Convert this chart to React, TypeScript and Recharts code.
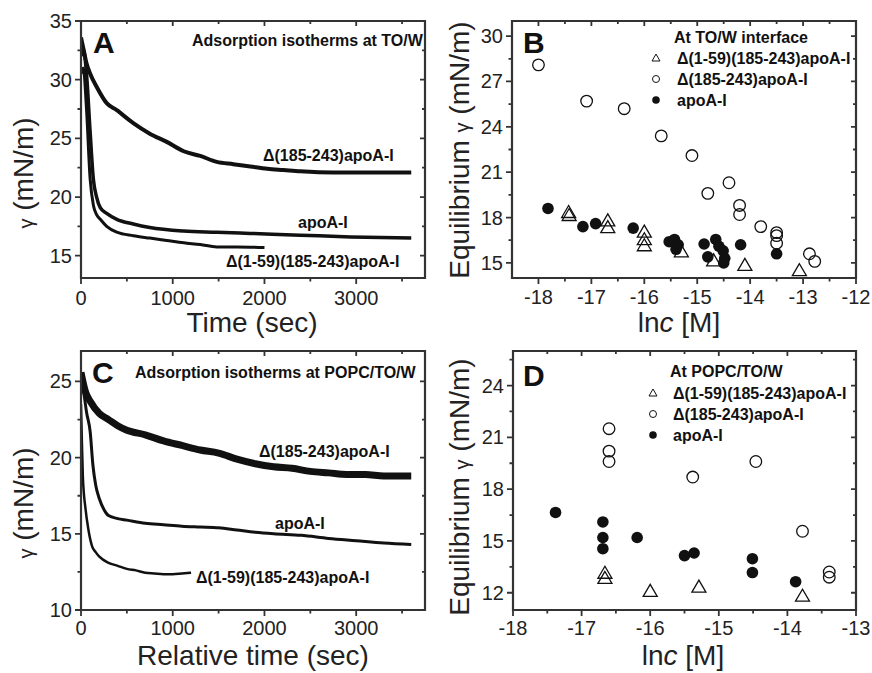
import React from "react";
import { LineChart, Line, ScatterChart, Scatter, XAxis, YAxis } from "recharts";

// Panel A: adsorption at TO/W (time in sec, gamma in mN/m)
const timeA_d185 = [0, 30, 60, 100, 170, 280, 390, 570, 750, 935, 1120, 1300, 1480, 1660, 1845, 2030, 2210, 2390, 2750, 3120, 3600];
const gammaA_d185 = [33.6, 32.5, 31.4, 30.5, 29.4, 28.0, 27.4, 26.3, 25.4, 24.7, 23.9, 23.5, 23.0, 22.8, 22.6, 22.4, 22.3, 22.2, 22.1, 22.1, 22.1];
const timeA_apo = [0, 25, 60, 100, 135, 170, 210, 280, 390, 570, 750, 1120, 1480, 1845, 2390, 2940, 3600];
const gammaA_apo = [32.0, 32.6, 30.5, 25.5, 21.5, 20.0, 19.1, 18.6, 18.1, 17.7, 17.4, 17.1, 17.0, 16.9, 16.75, 16.6, 16.5];
const timeA_d159 = [0, 25, 60, 100, 135, 170, 210, 280, 390, 570, 750, 935, 1120, 1300, 1480, 1700, 2000];
const gammaA_d159 = [30.5, 31.0, 27.5, 21.5, 19.3, 18.5, 18.1, 17.5, 17.0, 16.7, 16.5, 16.3, 16.1, 15.95, 15.75, 15.75, 15.7];

// Panel C: adsorption at POPC/TO/W
const timeC_d185 = [0, 50, 100, 200, 300, 400, 500, 700, 900, 1100, 1300, 1500, 1700, 1900, 2100, 2300, 2500, 2700, 2900, 3100, 3300, 3600];
const gammaC_d185 = [25.6, 24.3, 23.7, 22.9, 22.5, 22.1, 21.8, 21.5, 21.1, 20.8, 20.5, 20.3, 19.9, 19.6, 19.4, 19.3, 19.1, 19.0, 18.9, 18.9, 18.8, 18.8];
const timeC_apo = [0, 30, 60, 100, 130, 160, 200, 250, 300, 400, 500, 700, 900, 1100, 1300, 1500, 1700, 1900, 2100, 2400, 2700, 3000, 3300, 3600];
const gammaC_apo = [25.5, 24.3, 23.0, 21.7, 19.5, 18.2, 17.3, 16.6, 16.2, 16.0, 15.9, 15.7, 15.6, 15.5, 15.45, 15.4, 15.25, 15.1, 15.0, 14.9, 14.7, 14.55, 14.4, 14.3];
const timeC_d159 = [0, 10, 20, 50, 80, 120, 160, 200, 300, 400, 500, 600, 700, 800, 900, 1000, 1100, 1200];
const gammaC_d159 = [23.5, 21.0, 18.8, 16.6, 15.3, 14.2, 13.8, 13.5, 13.1, 12.9, 12.7, 12.6, 12.45, 12.4, 12.35, 12.35, 12.4, 12.45];

// Panel B: equilibrium gamma vs ln c at TO/W
const lncB_d159 = [-17.43, -17.42, -16.69, -16.69, -16.0, -16.0, -16.0, -15.3, -14.69, -14.1, -13.07];
const eqB_d159 = [18.3, 18.1, 17.75, 17.3, 17.0, 16.5, 16.1, 15.7, 15.1, 14.8, 14.45];
const lncB_d185 = [-18.0, -17.09, -16.38, -15.68, -15.1, -14.4, -14.8, -14.2, -14.2, -13.8, -13.5, -13.5, -13.5, -12.88, -12.78];
const eqB_d185 = [28.1, 25.7, 25.2, 23.4, 22.1, 20.3, 19.6, 18.8, 18.2, 17.4, 17.0, 16.8, 16.3, 15.6, 15.1];
const lncB_apo = [-17.82, -17.16, -16.92, -16.21, -15.53, -15.43, -15.36, -15.4, -14.87, -14.65, -14.8, -14.59, -14.51, -14.48, -14.5, -14.18, -13.5];
const eqB_apo = [18.6, 17.4, 17.6, 17.3, 16.4, 16.55, 16.2, 15.9, 16.25, 16.55, 15.4, 16.1, 15.8, 15.3, 15.0, 16.2, 15.6];

// Panel D: equilibrium gamma vs ln c at POPC/TO/W
const lncD_d159 = [-16.66, -16.66, -16.0, -15.29, -13.78];
const eqD_d159 = [13.1, 12.8, 12.05, 12.3, 11.77];
const lncD_d185 = [-16.6, -16.6, -16.6, -15.38, -14.46, -13.78, -13.39, -13.39];
const eqD_d185 = [21.5, 20.2, 19.6, 18.7, 19.6, 15.56, 13.2, 12.9];
const lncD_apo = [-17.38, -16.69, -16.69, -16.69, -16.19, -15.5, -15.36, -14.51, -14.51, -13.88];
const eqD_apo = [16.65, 16.1, 15.2, 14.55, 15.2, 14.15, 14.3, 13.97, 13.17, 12.64];

const FONT = "Arial, 'Liberation Sans', sans-serif";
const INK = "#111";
const FRAME = "#333";

const series = (xs: number[], ys: number[]) => xs.map((x, i) => ({ x, y: ys[i] }));

const OpenCircle = (p: any) => <circle cx={p.cx} cy={p.cy} r={5.8} fill="none" stroke={INK} strokeWidth={1.3} />;
const FilledCircle = (p: any) => <circle cx={p.cx} cy={p.cy} r={5.8} fill={INK} />;
const Triangle = (p: any) => (
  <polygon
    points={`${p.cx},${p.cy - 7.5} ${p.cx - 7},${p.cy + 4.5} ${p.cx + 7},${p.cy + 4.5}`}
    fill="none"
    stroke={INK}
    strokeWidth={1.3}
  />
);

const bottomLabel = (dy: number) => (p: any) => (
  <text x={p.x} y={p.y + dy} textAnchor="middle" fontSize={20} fontFamily={FONT} fill="#222">
    {p.payload.value}
  </text>
);
const leftLabel = (p: any) => (
  <text x={p.x - 9} y={p.y + 7} textAnchor="end" fontSize={20} fontFamily={FONT} fill="#222">
    {p.payload.value}
  </text>
);

type Frame = {
  xDomain: [number, number];
  yDomain: [number, number];
  xMajor: number[];
  xMinor: number[];
  yMajor: number[];
  yMinor: number[];
  yWidth: number;
  xHeight: number;
  dy: number;
  // plot box in page pixels: left, top, right, bottom
  box: [number, number, number, number];
};

const axes = (f: Frame) => [
  <XAxis key="xb" xAxisId="b" dataKey="x" type="number" domain={f.xDomain} ticks={f.xMajor} interval={0}
    height={f.xHeight} tickSize={0} tickMargin={0} tick={bottomLabel(f.dy)} axisLine={{ stroke: FRAME, strokeWidth: 2 }} tickLine={false} allowDataOverflow />,
  <YAxis key="yl" yAxisId="l" dataKey="y" type="number" domain={f.yDomain} ticks={f.yMajor} interval={0}
    width={f.yWidth} tickSize={0} tickMargin={0} tick={leftLabel} axisLine={{ stroke: FRAME, strokeWidth: 2 }} tickLine={false} allowDataOverflow />,
];

// Origin-style box: outward ticks bottom/left, inward ticks top/right, minor ticks in between
const FrameMarks = ({ f }: { f: Frame }) => {
  const [l, t, r, b] = f.box;
  const sx = (v: number) => l + ((v - f.xDomain[0]) / (f.xDomain[1] - f.xDomain[0])) * (r - l);
  const sy = (v: number) => b - ((v - f.yDomain[0]) / (f.yDomain[1] - f.yDomain[0])) * (b - t);
  const ticks: string[] = [];
  f.xMajor.forEach((v) => { const x = sx(v); ticks.push(`M${x} ${b} L${x} ${b + 6}`, `M${x} ${t} L${x} ${t + 5}`); });
  f.xMinor.forEach((v) => { const x = sx(v); ticks.push(`M${x} ${b} L${x} ${b + 3.5}`, `M${x} ${t} L${x} ${t + 3}`); });
  f.yMajor.forEach((v) => { const y = sy(v); ticks.push(`M${l} ${y} L${l - 6} ${y}`, `M${r} ${y} L${r - 5} ${y}`); });
  f.yMinor.forEach((v) => { const y = sy(v); ticks.push(`M${l} ${y} L${l - 3.5} ${y}`, `M${r} ${y} L${r - 3} ${y}`); });
  return (
    <g>
      <path d={`M${l} ${t} L${r} ${t} L${r} ${b} L${l} ${b} Z`} fill="none" stroke={FRAME} strokeWidth={2.2} />
      <path d={ticks.join(" ")} fill="none" stroke={FRAME} strokeWidth={1.8} />
    </g>
  );
};

const frameA: Frame = {
  xDomain: [0, 3750], yDomain: [13.1, 35],
  xMajor: [0, 1000, 2000, 3000], xMinor: [500, 1500, 2500, 3500],
  yMajor: [15, 20, 25, 30, 35], yMinor: [17.5, 22.5, 27.5, 32.5],
  yWidth: 81, xHeight: 58, dy: 27, box: [81, 21, 425, 278],
};
const frameC: Frame = {
  xDomain: [0, 3750], yDomain: [10, 27],
  xMajor: [0, 1000, 2000, 3000], xMinor: [500, 1500, 2500, 3500],
  yMajor: [10, 15, 20, 25], yMinor: [12.5, 17.5, 22.5],
  yWidth: 81, xHeight: 63, dy: 25, box: [81, 351, 425, 610],
};
const frameB: Frame = {
  xDomain: [-18.5, -12], yDomain: [14, 31],
  xMajor: [-18, -17, -16, -15, -14, -13, -12], xMinor: [-17.5, -16.5, -15.5, -14.5, -13.5, -12.5],
  yMajor: [15, 18, 21, 24, 27, 30], yMinor: [16.5, 19.5, 22.5, 25.5, 28.5],
  yWidth: 76, xHeight: 58, dy: 26, box: [512, 21, 856, 278],
};
const frameD: Frame = {
  xDomain: [-18, -13], yDomain: [11, 26],
  xMajor: [-18, -17, -16, -15, -14, -13], xMinor: [-17.5, -16.5, -15.5, -14.5, -13.5],
  yMajor: [12, 15, 18, 21, 24], yMinor: [13.5, 16.5, 19.5, 22.5, 25.5],
  yWidth: 77, xHeight: 63, dy: 25, box: [513, 351, 856, 610],
};

const Bold = ({ x, y, children, size = 16 }: any) => (
  <text x={x} y={y} fontSize={size} fontWeight="bold" fontFamily={FONT} fill={INK}>{children}</text>
);

export default function App() {
  const lineProps = { xAxisId: "b", yAxisId: "l", dataKey: "y", dot: false, isAnimationActive: false, type: "monotone" as const, stroke: INK };
  return (
    <div style={{ position: "absolute", left: 0, top: 0, width: 872, height: 673, background: "#fff", fontFamily: FONT }}>
      <div style={{ position: "absolute", left: 0, top: 0 }}>
        <LineChart width={436} height={336} margin={{ top: 21, right: 11, left: 0, bottom: 0 }}>
          {axes(frameA)}
          <Line {...lineProps} data={series(timeA_d185, gammaA_d185)} strokeWidth={4} />
          <Line {...lineProps} data={series(timeA_apo, gammaA_apo)} strokeWidth={3.5} />
          <Line {...lineProps} data={series(timeA_d159, gammaA_d159)} strokeWidth={3} />
        </LineChart>
      </div>
      <div style={{ position: "absolute", left: 0, top: 336 }}>
        <LineChart width={436} height={337} margin={{ top: 15, right: 11, left: 0, bottom: 0 }}>
          {axes(frameC)}
          <Line {...lineProps} data={series(timeC_d185, gammaC_d185)} strokeWidth={7} />
          <Line {...lineProps} data={series(timeC_apo, gammaC_apo)} strokeWidth={3} />
          <Line {...lineProps} data={series(timeC_d159, gammaC_d159)} strokeWidth={2.5} />
        </LineChart>
      </div>
      <div style={{ position: "absolute", left: 436, top: 0 }}>
        <ScatterChart width={436} height={336} margin={{ top: 21, right: 16, left: 0, bottom: 0 }}>
          {axes(frameB)}
          <Scatter xAxisId="b" yAxisId="l" data={series(lncB_apo, eqB_apo)} shape={FilledCircle} isAnimationActive={false} />
          <Scatter xAxisId="b" yAxisId="l" data={series(lncB_d159, eqB_d159)} shape={Triangle} isAnimationActive={false} />
          <Scatter xAxisId="b" yAxisId="l" data={series(lncB_d185, eqB_d185)} shape={OpenCircle} isAnimationActive={false} />
        </ScatterChart>
      </div>
      <div style={{ position: "absolute", left: 436, top: 336 }}>
        <ScatterChart width={436} height={337} margin={{ top: 15, right: 16, left: 0, bottom: 0 }}>
          {axes(frameD)}
          <Scatter xAxisId="b" yAxisId="l" data={series(lncD_apo, eqD_apo)} shape={FilledCircle} isAnimationActive={false} />
          <Scatter xAxisId="b" yAxisId="l" data={series(lncD_d159, eqD_d159)} shape={Triangle} isAnimationActive={false} />
          <Scatter xAxisId="b" yAxisId="l" data={series(lncD_d185, eqD_d185)} shape={OpenCircle} isAnimationActive={false} />
        </ScatterChart>
      </div>

      <svg width={872} height={673} viewBox="0 0 872 673" style={{ position: "absolute", left: 0, top: 0, pointerEvents: "none" }}>
        {[frameA, frameB, frameC, frameD].map((f, i) => (
          <FrameMarks key={i} f={f} />
        ))}

        {/* panel letters */}
        <Bold x={93} y={53} size={30}>A</Bold>
        <Bold x={523} y={53} size={30}>B</Bold>
        <Bold x={92} y={383} size={30}>C</Bold>
        <Bold x={523} y={386} size={30}>D</Bold>

        {/* panel A annotations */}
        <Bold x={192} y={46}>Adsorption isotherms at TO/W</Bold>
        <Bold x={263} y={161}>Δ(185-243)apoA-I</Bold>
        <Bold x={298} y={228}>apoA-I</Bold>
        <Bold x={226} y={267}>Δ(1-59)(185-243)apoA-I</Bold>

        {/* panel C annotations */}
        <Bold x={135} y={378}>Adsorption isotherms at POPC/TO/W</Bold>
        <Bold x={259} y={457}>Δ(185-243)apoA-I</Bold>
        <Bold x={275} y={529}>apoA-I</Bold>
        <Bold x={196} y={583}>Δ(1-59)(185-243)apoA-I</Bold>

        {/* panel B legend */}
        <Bold x={674} y={43}>At TO/W interface</Bold>
        <polygon points="656,54 652,61 660,61" fill="none" stroke={INK} strokeWidth={1} />
        <Bold x={677} y={64}>Δ(1-59)(185-243)apoA-I</Bold>
        <circle cx={656} cy={79} r={3.5} fill="none" stroke={INK} strokeWidth={1} />
        <Bold x={677} y={85}>Δ(185-243)apoA-I</Bold>
        <circle cx={656} cy={100} r={3.8} fill={INK} />
        <Bold x={677} y={106}>apoA-I</Bold>

        {/* panel D legend */}
        <Bold x={670} y={377}>At POPC/TO/W</Bold>
        <polygon points="653,389 649,396 657,396" fill="none" stroke={INK} strokeWidth={1} />
        <Bold x={673} y={399}>Δ(1-59)(185-243)apoA-I</Bold>
        <circle cx={653} cy={414} r={3.5} fill="none" stroke={INK} strokeWidth={1} />
        <Bold x={673} y={420}>Δ(185-243)apoA-I</Bold>
        <circle cx={653} cy={435} r={3.8} fill={INK} />
        <Bold x={673} y={441}>apoA-I</Bold>

        {/* axis titles */}
        <g fontFamily={FONT} fontSize={28} fill="#222">
          <text x={252} y={332} textAnchor="middle">Time (sec)</text>
          <text x={253} y={665} textAnchor="middle">Relative time (sec)</text>
          <text x={679} y={332} textAnchor="middle">ln<tspan fontStyle="italic">c</tspan> [M]</text>
          <text x={683} y={665} textAnchor="middle">ln<tspan fontStyle="italic">c</tspan> [M]</text>
          <text transform="translate(33,173) rotate(-90)" textAnchor="middle"><tspan fontSize={20}>γ</tspan> (mN/m)</text>
          <text transform="translate(33,503) rotate(-90)" textAnchor="middle"><tspan fontSize={20}>γ</tspan> (mN/m)</text>
          <text transform="translate(469,150) rotate(-90)" textAnchor="middle">Equilibrium <tspan fontSize={20}>γ</tspan> (mN/m)</text>
          <text transform="translate(469,487) rotate(-90)" textAnchor="middle">Equilibrium <tspan fontSize={20}>γ</tspan> (mN/m)</text>
        </g>
      </svg>
    </div>
  );
}
